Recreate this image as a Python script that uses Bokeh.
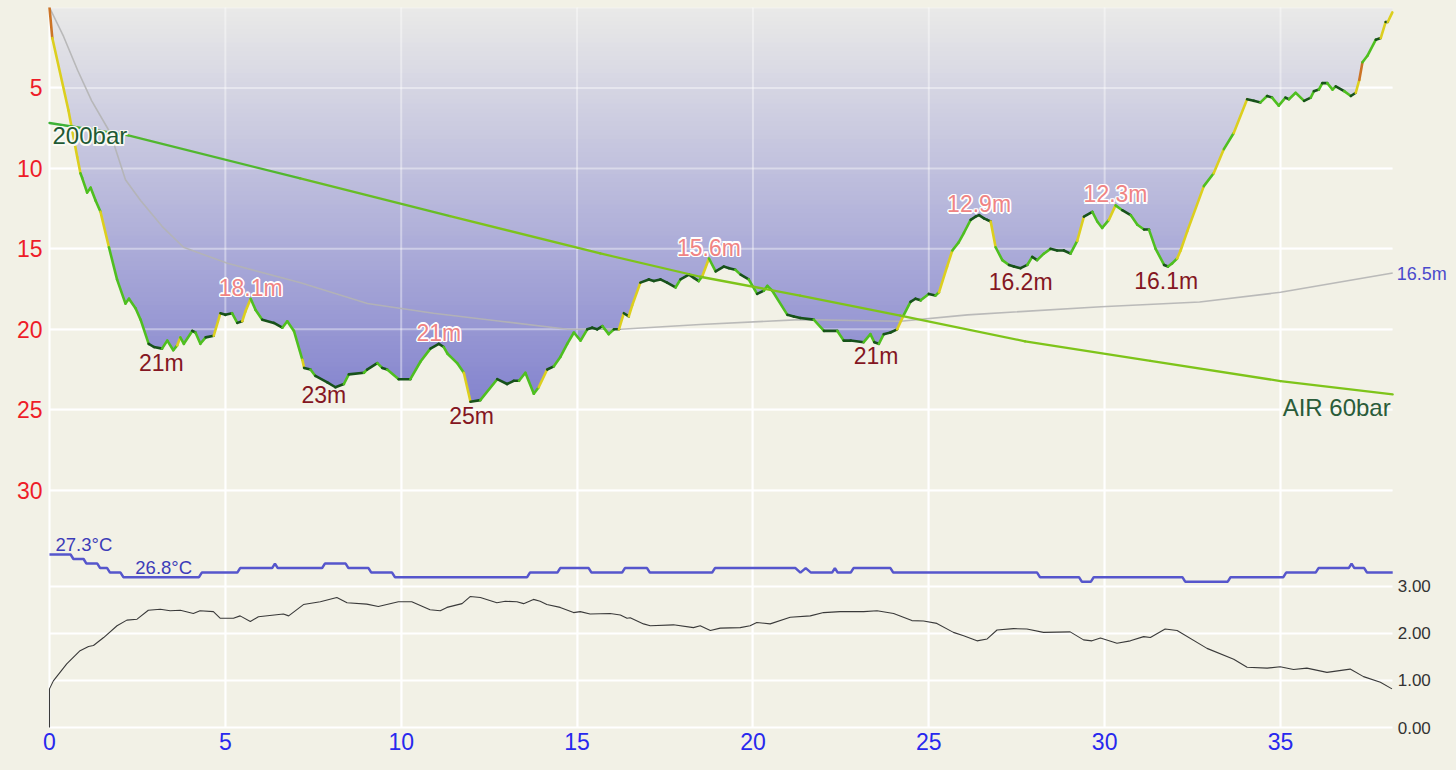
import numpy as np
from bokeh.plotting import figure
from bokeh.models import Range1d, LinearAxis, FixedTicker, Grid, PrintfTickFormatter
from bokeh.core.properties import value
from bokeh.embed import file_html
from bokeh.resources import INLINE

# ---------------- data ----------------
time_min = [0.0, 0.08, 0.54, 0.79, 0.88, 0.93, 1.07, 1.17, 1.31, 1.45, 1.69, 1.92, 2.16, 2.26, 2.45,
            2.59, 2.82, 2.97, 3.2, 3.35, 3.52, 3.63, 3.72, 3.82, 4.06, 4.15, 4.29, 4.44, 4.67, 4.86,
            5.0, 5.19, 5.34, 5.48, 5.57, 5.72, 5.86, 6.05, 6.38, 6.62, 6.76, 6.95, 7.19, 7.24, 7.42,
            7.56, 7.9, 8.13, 8.37, 8.51, 8.94, 9.03, 9.32, 9.46, 9.6, 9.93, 10.26, 10.55, 10.83, 11.07,
            11.21, 11.31, 11.59, 11.78, 11.97, 12.25, 12.73, 13.01, 13.2, 13.35, 13.53, 13.77, 13.91,
            14.15, 14.34, 14.53, 14.72, 14.91, 15.1, 15.29, 15.43, 15.57, 15.72, 15.9, 16.05, 16.19,
            16.33, 16.47, 16.57, 16.8, 17.04, 17.18, 17.37, 17.56, 17.8, 17.94, 18.18, 18.32, 18.46,
            18.56, 18.75, 18.94, 19.17, 19.32, 19.5, 19.65, 19.88, 20.12, 20.31, 20.41, 20.55, 20.98,
            21.16, 21.35, 21.73, 22.02, 22.4, 22.58, 22.78, 23.15, 23.34, 23.45, 23.58, 23.72, 23.91,
            24.1, 24.29, 24.48, 24.62, 24.77, 25.0, 25.19, 25.29, 25.52, 25.67, 25.85, 26.0, 26.19,
            26.33, 26.43, 26.57, 26.66, 26.76, 26.9, 27.09, 27.28, 27.42, 27.61, 27.8, 27.94, 28.08,
            28.27, 28.46, 28.65, 28.84, 29.03, 29.22, 29.41, 29.65, 29.79, 29.93, 30.12, 30.31, 30.5,
            30.74, 30.93, 31.12, 31.26, 31.45, 31.69, 31.8, 31.92, 32.06, 32.16, 32.35, 32.82, 33.1,
            33.39, 33.67, 34.05, 34.24, 34.43, 34.62, 34.76, 34.95, 35.14, 35.24, 35.43, 35.67, 35.86,
            35.95, 36.09, 36.19, 36.33, 36.48, 36.57, 36.81, 37.0, 37.14, 37.24, 37.33, 37.47, 37.71,
            37.85, 37.99, 38.05, 38.18]
depth_m = [0.0, 1.9, 6.4, 9.3, 10.3, 10.6, 11.5, 11.2, 12.0, 12.7, 14.9, 16.9, 18.4, 18.1, 18.7,
           19.4, 20.9, 21.1, 21.2, 20.7, 21.3, 21.0, 20.5, 20.9, 20.1, 20.2, 20.9, 20.5, 20.4, 19.0,
           19.1, 19.0, 19.6, 19.5, 18.9, 18.1, 18.8, 19.4, 19.6, 19.9, 19.5, 20.1, 21.9, 22.4, 22.5,
           22.9, 23.3, 23.6, 23.4, 22.8, 22.7, 22.5, 22.1, 22.4, 22.5, 23.1, 23.1, 22.0, 21.2, 20.9,
           21.1, 21.5, 22.1, 22.7, 24.5, 24.4, 23.1, 23.4, 23.2, 23.2, 22.7, 24.0, 23.6,
           22.5, 22.3, 21.7, 20.9, 20.2, 20.7, 20.0, 19.9, 20.0, 19.8, 20.3, 20.0, 20.0,
           19.0, 19.2, 18.5, 17.1, 16.9, 17.0, 16.9, 17.1, 17.4, 16.9, 16.6, 16.8, 17.0,
           16.7, 15.6, 16.4, 16.1, 16.2, 16.3, 16.6, 16.9, 17.8, 17.6, 17.3, 17.6, 19.1,
           19.2, 19.3, 19.4, 20.1, 20.1, 20.7, 20.7, 20.8, 20.3, 20.8, 20.9, 20.3, 20.2,
           20.0, 19.1, 18.3, 18.1, 18.2, 17.8, 17.9, 17.7, 16.1, 15.1, 14.6, 14.0, 13.2,
           13.0, 12.9, 13.1, 13.2, 13.3, 14.9, 15.7, 16.0, 16.1, 16.2, 16.0, 15.5, 15.7,
           15.3, 15.0, 15.1, 15.1, 15.3, 14.5, 13.0, 12.7, 13.3, 13.7, 13.2, 12.3, 12.6,
           12.9, 13.5, 13.8, 13.8, 15.0, 16.0, 16.1, 15.9, 15.6, 15.1, 13.9, 11.1, 10.3,
           8.8, 7.8, 5.7, 5.8, 5.9, 5.5, 5.6, 6.1, 5.6, 5.7, 5.3, 5.8, 5.6,
           5.2, 5.1, 4.7, 4.7, 5.1, 4.9, 5.2, 5.5, 5.3, 4.5, 3.4, 3.0, 2.0,
           1.9, 0.9, 0.9, 0.3]

mean_t = [0.0, 0.4, 0.8, 1.2, 1.73, 2.16, 2.59, 3.2, 3.81, 5.06, 7.14, 9.04, 10.92, 12.82, 14.73,
          16.24, 18.5, 21.35, 24.2, 26.1, 29.9, 32.7, 35.0, 38.19]
mean_d = [0.0, 1.8, 3.9, 5.8, 7.8, 10.7, 12.0, 13.6, 14.9, 15.9, 17.1, 18.4, 19.0, 19.5, 20.0,
          20.0, 19.7, 19.4, 19.5, 19.1, 18.6, 18.3, 17.7, 16.5]

pres_t = [0.0, 2.24, 7.13, 11.39, 15.66, 18.5, 21.34, 24.19, 27.74, 31.3, 35.0, 38.19]
pres_bar = [200, 193.6, 171.4, 152.0, 132.7, 120.7, 111.0, 100.7, 87.4, 77.3, 66.9, 60.0]
gas_name = "AIR"

temp_t = [0.0, 0.60, 0.68, 0.97, 1.05, 1.36, 1.44, 1.64, 1.72, 2.02, 2.10, 4.25, 4.33, 5.34,
          5.42, 6.33, 6.41, 6.49, 7.75, 7.83, 8.42, 8.50, 9.07, 9.15, 9.74, 9.82, 13.58, 13.66,
          14.44, 14.52, 15.33, 15.41, 16.28, 16.36, 16.99, 17.07, 18.84, 18.92, 21.21, 21.35,
          21.50, 21.65, 22.25, 22.33, 22.41, 22.78, 22.86, 23.91, 23.99, 28.08, 28.16, 29.27,
          29.35, 29.61, 29.69, 32.21, 32.29, 33.50, 33.58, 35.08, 35.16, 36.00, 36.08, 36.94,
          37.02, 37.10, 37.38, 37.46, 38.19]
temp_c = [27.3, 27.3, 27.2, 27.2, 27.1, 27.1, 27.0, 27.0, 26.9, 26.9, 26.8, 26.8, 26.9, 26.9,
          27.0, 27.0, 27.1, 27.0, 27.0, 27.1, 27.1, 27.0, 27.0, 26.9, 26.9, 26.8, 26.8, 26.9,
          26.9, 27.0, 27.0, 26.9, 26.9, 27.0, 27.0, 26.9, 26.9, 27.0, 27.0, 26.9,
          27.0, 26.9, 26.9, 27.0, 26.9, 26.9, 27.0, 27.0, 26.9, 26.9, 26.8, 26.8,
          26.7, 26.7, 26.8, 26.8, 26.7, 26.7, 26.8, 26.8, 26.9, 26.9, 27.0, 27.0,
          27.1, 27.0, 27.0, 26.9, 26.9]

sac_t = [0.0, 0.0, 0.11, 0.49, 0.87, 1.11, 1.25, 1.54, 1.92, 2.2, 2.49, 2.81, 3.15, 3.43, 3.72,
         4.09, 4.28, 4.66, 4.85, 5.23, 5.42, 5.71, 5.94, 6.65, 6.8, 7.22, 7.7, 8.17, 8.46, 9.02,
         9.35, 9.92, 10.3, 10.82, 11.11, 11.3, 11.73, 11.96, 12.25, 12.72, 12.96, 13.29, 13.48,
         13.76, 13.95, 14.14, 14.52, 14.9, 15.09, 15.37, 15.94, 16.23, 16.42, 16.51, 16.89, 17.08,
         17.74, 18.31, 18.5, 18.79, 19.07, 19.64, 19.92, 20.11, 20.49, 21.06, 21.63, 22.01, 22.48,
         23.15, 23.53, 24.0, 24.52, 24.85, 25.23, 25.7, 25.99, 26.37, 26.66, 26.94, 27.41, 27.79,
         28.26, 29.02, 29.4, 29.64, 29.88, 30.35, 30.73, 31.11, 31.3, 31.72, 32.06, 32.91, 33.67,
         34.05, 34.62, 34.99, 35.37, 35.75, 36.32, 36.98, 37.36, 37.84, 38.17]
sac_val = [0.0, 0.82, 0.99, 1.35, 1.63, 1.72, 1.74, 1.91, 2.16, 2.28, 2.30, 2.49, 2.51, 2.48, 2.49,
           2.42, 2.48, 2.46, 2.32, 2.32, 2.37, 2.25, 2.35, 2.41, 2.37, 2.61, 2.67, 2.76, 2.65, 2.62,
           2.57, 2.67, 2.67, 2.50, 2.48, 2.55, 2.63, 2.78, 2.76, 2.65, 2.68, 2.67, 2.63,
           2.72, 2.68, 2.61, 2.55, 2.44, 2.46, 2.41, 2.42, 2.39, 2.32, 2.33, 2.20, 2.16,
           2.18, 2.12, 2.16, 2.06, 2.11, 2.12, 2.16, 2.23, 2.20, 2.34, 2.37, 2.44, 2.46,
           2.46, 2.48, 2.42, 2.27, 2.26, 2.21, 2.02, 1.95, 1.84, 1.88, 2.07, 2.10, 2.09,
           2.02, 2.03, 1.86, 1.84, 1.90, 1.79, 1.84, 1.93, 1.91, 2.09, 2.06, 1.68, 1.45,
           1.28, 1.26, 1.29, 1.23, 1.26, 1.17, 1.24, 1.08, 0.96, 0.82]

deep_t = [3.18, 7.8, 12.0, 23.5, 27.61, 31.75]
deep_d = [21.2, 23.2, 24.5, 20.8, 16.2, 16.1]
deep_txt = ["21m", "23m", "25m", "21m", "16.2m", "16.1m"]
shallow_t = [5.72, 11.07, 18.75, 26.43, 30.31]
shallow_d = [18.1, 20.9, 15.6, 12.9, 12.3]
shallow_txt = ["18.1m", "21m", "15.6m", "12.9m", "12.3m"]
temp_lbl_t = [0.17, 2.44]
temp_lbl_c = [27.3, 26.8]

x_ticks = [0, 5, 10, 15, 20, 25, 30, 35]
depth_ticks = [0, 5, 10, 15, 20, 25, 30]
sac_ticks = [0, 1, 2, 3]

# ---------------- styling ----------------
FONT = "Liberation Sans"
BG = "#f2f1e6"
T_END = 38.19          # end of the dive (right edge of the drawn profile)
D_BASE = 44.75         # depth coordinate of the bottom (time axis) line

p = figure(width=1452, height=766, output_backend="svg", toolbar_location=None,
           x_range=Range1d(-1.393, 39.89), y_range=Range1d(47.17, 0),
           min_border_left=0, min_border_right=0, min_border_top=7, min_border_bottom=0,
           background_fill_color=BG, border_fill_color=BG, outline_line_color=None)
p.extra_y_ranges = {"sac": Range1d(-0.828, 15.287), "temp": Range1d(22.62, 39.375),
                    "pres": Range1d(-131.9, 259.57)}

p.xaxis.ticker = FixedTicker(ticks=x_ticks)
p.xaxis.fixed_location = D_BASE
p.yaxis.ticker = FixedTicker(ticks=depth_ticks)
p.yaxis.fixed_location = 0
p.yaxis.major_label_overrides = {0: ""}
for ax, col in ((p.xaxis, "#2828ee"), (p.yaxis, "#ee1c28")):
    ax.axis_line_color = None
    ax.major_tick_line_color = None
    ax.minor_tick_line_color = None
    ax.major_tick_out = 0
    ax.major_tick_in = 0
    ax.minor_tick_out = 0
    ax.major_label_text_color = col
    ax.major_label_text_font = FONT
    ax.major_label_text_font_size = "23px"
p.xaxis.major_label_standoff = 5
p.yaxis.major_label_standoff = 7

sac_axis = LinearAxis(y_range_name="sac", ticker=FixedTicker(ticks=sac_ticks),
                      formatter=PrintfTickFormatter(format="%.2f"), fixed_location=T_END)
sac_axis.axis_line_color = None
sac_axis.major_tick_line_color = None
sac_axis.minor_tick_line_color = None
sac_axis.major_tick_out = 0
sac_axis.major_tick_in = 0
sac_axis.minor_tick_out = 0
sac_axis.major_label_text_color = "#333333"
sac_axis.major_label_text_font = FONT
sac_axis.major_label_text_font_size = "17px"
sac_axis.major_label_standoff = 5
p.add_layout(sac_axis, "right")

p.xgrid.grid_line_color = "white"
p.xgrid.grid_line_width = 2
p.xgrid.cross_bounds = (0, D_BASE)
p.ygrid.grid_line_color = "white"
p.ygrid.grid_line_width = 2
p.ygrid.cross_bounds = (0, T_END)
sac_grid = Grid(dimension=1, ticker=FixedTicker(ticks=sac_ticks), y_range_name="sac",
                grid_line_color="white", grid_line_width=2, cross_bounds=(0, T_END))
p.add_layout(sac_grid)

# ---------------- depth fill (vertical gradient) ----------------
td = np.array(time_min, dtype=float)
dd = np.array(depth_m, dtype=float)


def with_crossings(t, d, level):
    ts, ds = [t[0]], [d[0]]
    for i in range(len(t) - 1):
        d0, d1 = d[i], d[i + 1]
        if (d0 - level) * (d1 - level) < 0:
            tc = t[i] + (level - d0) * (t[i + 1] - t[i]) / (d1 - d0)
            ts.append(tc)
            ds.append(level)
        ts.append(t[i + 1])
        ds.append(d[i + 1])
    return np.array(ts), np.array(ds)


dmax = dd.max()
c_top = np.array([234, 234, 232])
c_bot = np.array([132, 132, 206])
nb = 90
for k in range(nb):
    lvl = dmax * k / nb
    ts, ds = with_crossings(td, dd, lvl)
    f = (k + 0.5) / nb
    c = c_top + (c_bot - c_top) * f
    colr = "#%02x%02x%02x" % tuple(int(round(v)) for v in c)
    p.varea(x=ts, y1=np.full(len(ts), lvl), y2=np.maximum(ds, lvl), fill_color=colr)

# faint grid showing through the fill
nd = len(depth_ticks)
p.segment(x0=[0] * nd, x1=[T_END] * nd, y0=depth_ticks, y1=depth_ticks,
          line_color="white", line_width=2, line_alpha=0.4)
nx = len(x_ticks)
p.segment(x0=x_ticks, x1=x_ticks, y0=[0] * nx, y1=[D_BASE] * nx,
          line_color="white", line_width=2, line_alpha=0.4)

# mean depth
p.line(mean_t, mean_d, line_color="#b4b4b4", line_width=1.6, line_alpha=0.9)

# ---------------- profile line coloured by vertical speed ----------------
STABLE, SLOW, MODERATE, FAST, CRAZY = "#17521a", "#4fbf20", "#dccf1e", "#cc7426", "#e02020"


def speed_color(v):
    a = abs(v)
    if a < 1.5:
        return STABLE
    lims = (9.1, 18.2, 30.4) if v > 0 else (4.56, 9.1, 18.2)
    if a < lims[0]:
        return SLOW
    if a < lims[1]:
        return MODERATE
    if a < lims[2]:
        return FAST
    return CRAZY


vel = np.diff(dd) / np.diff(td)
seg_cols = [speed_color(v) for v in vel]
p.segment(x0=td[:-1], y0=dd[:-1], x1=td[1:], y1=dd[1:], line_color=seg_cols,
          line_width=2.6, line_cap="round")

# ---------------- tank pressure ----------------
pt = np.array(pres_t, dtype=float)
pb = np.array(pres_bar, dtype=float)
g0 = np.array([58, 176, 58])
g1 = np.array([126, 196, 26])
pcols = []
for i in range(len(pt) - 1):
    f = min(1.0, 0.5 * (pt[i] + pt[i + 1]) / 14.0)
    c = g0 + (g1 - g0) * f
    pcols.append("#%02x%02x%02x" % tuple(int(round(v)) for v in c))
p.segment(x0=pt[:-1], y0=pb[:-1], x1=pt[1:], y1=pb[1:], y_range_name="pres",
          line_color=pcols, line_width=2.3, line_cap="round")

# ---------------- temperature and SAC ----------------
p.line(temp_t, temp_c, y_range_name="temp", line_color="#5656cc", line_width=2.5)
p.line(sac_t, sac_val, y_range_name="sac", line_color="#3a3a3a", line_width=1.1)

# ---------------- texts ----------------
HALO = [(-1.5, 0), (1.5, 0), (0, -1.5), (0, 1.5), (-1.1, -1.1), (1.1, 1.1), (-1.1, 1.1), (1.1, -1.1)]


def put_text(xs, ys, texts, color, size, align, dx, dy, halo=None, rng=None):
    kw = dict(text_font=value(FONT), text_font_size=size, text_align=align,
              text_baseline="alphabetic")
    if rng:
        kw["y_range_name"] = rng
    if halo:
        for ox, oy in HALO:
            p.text(x=xs, y=ys, text=texts, text_color=halo, x_offset=dx + ox,
                   y_offset=dy + oy, **kw)
    p.text(x=xs, y=ys, text=texts, text_color=color, x_offset=dx, y_offset=dy, **kw)


put_text(deep_t, deep_d, deep_txt, "#841622", "23px", "center", 0, 14)
put_text(shallow_t, shallow_d, shallow_txt, "#f08484", "23px", "center", 0, -11, halo="white")

put_text([pres_t[0]], [pres_bar[0]], ["%dbar" % pres_bar[0]], "#1f5a34", "24px", "left", 3, 13,
         halo="#fafaf4", rng="pres")
put_text([pres_t[-1]], [pres_bar[-1]], ["%s %dbar" % (gas_name, pres_bar[-1])], "#2a5c3a", "24px",
         "right", -2, 13, rng="pres")

put_text(temp_lbl_t, temp_lbl_c, ["%.1f\u00b0C" % c for c in temp_lbl_c], "#3c3cb8", "18.5px",
         "left", 0, -10, rng="temp")

put_text([mean_t[-1]], [mean_d[-1]], ["%.1fm" % mean_d[-1]], "#4a4acc", "18px", "left", 4, 1)

html = file_html(p, INLINE, title="Dive profile")
html = html.replace("</head>", "<style>body{background:%s;}</style></head>" % BG, 1)
open("out.html", "w").write(html)
